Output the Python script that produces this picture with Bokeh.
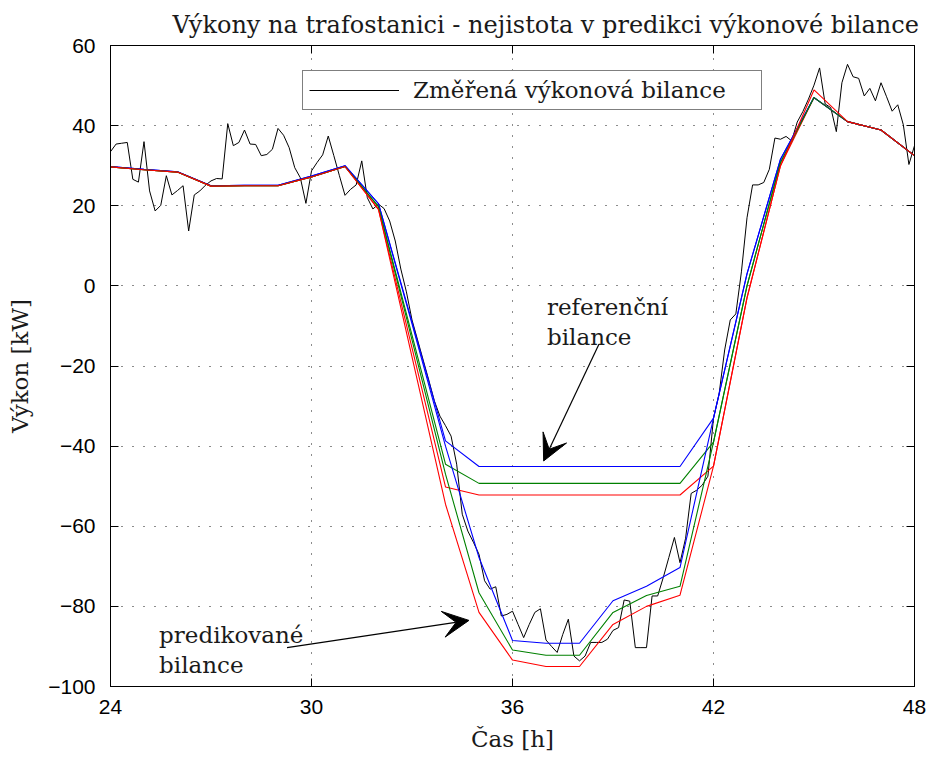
from bokeh.plotting import figure
from bokeh.models import (Range1d, FixedTicker, LinearAxis, Legend, LegendItem,
                          Arrow, VeeHead, Label)
from bokeh.embed import file_html
from bokeh.resources import INLINE

# ---------------- data ----------------
hours = [24, 25, 26, 27, 28, 29, 30, 31, 32, 33, 34, 35, 36,
         37, 38, 39, 40, 41, 42, 43, 44, 45, 46, 47, 48]

ref_blue = [29.8, 29.1, 28.5, 25.0, 25.1, 25.1, 27.4, 30.0, 20.5, -9.0, -38.7, -45.1, -45.1,
            -45.1, -45.1, -45.1, -45.1, -45.1, -33.0, 3.0, 31.6, 47.0, 41.0, 38.9, 32.5]
ref_green = [29.7, 29.0, 28.4, 24.9, 25.0, 25.0, 27.2, 29.8, 19.8, -12.3, -44.5, -49.3, -49.3,
             -49.3, -49.3, -49.3, -49.3, -49.3, -39.0, 0.0, 30.8, 47.0, 41.0, 38.9, 32.5]
ref_red = [29.7, 29.0, 28.4, 24.9, 25.0, 25.0, 27.2, 29.8, 19.1, -15.5, -50.2, -52.2, -52.2,
           -52.2, -52.2, -52.2, -52.2, -52.2, -45.0, -3.0, 30.0, 47.0, 41.0, 38.9, 32.5]

pred_blue = [29.8, 29.1, 28.5, 25.0, 25.1, 25.1, 27.4, 30.0, 20.5, -9.5, -40.0, -67.8, -88.5,
             -89.2, -89.2, -78.6, -75.0, -70.3, -33.0, 3.0, 31.6, 47.0, 41.0, 38.9, 32.5]
pred_green = [29.7, 29.0, 28.4, 24.9, 25.0, 25.0, 27.2, 29.8, 19.8, -13.5, -47.0, -76.6, -90.9,
              -92.2, -92.2, -81.5, -77.3, -75.0, -39.0, 0.0, 30.8, 47.0, 41.0, 38.9, 32.5]
pred_red = [29.7, 29.0, 28.4, 24.9, 25.0, 25.0, 27.2, 29.8, 19.1, -17.7, -54.5, -81.5, -93.4,
            -95.0, -95.0, -84.5, -80.0, -77.2, -45.0, -3.0, 30.0, 48.9, 41.0, 38.9, 32.5]

# measured balance, 10-minute samples from 24:00 to 48:00
meas_t = [24 + i / 6 for i in range(145)]
meas_kw = [
    33.5, 35.4, 35.6, 35.8, 26.6, 25.9,
    36.0, 23.7, 18.7, 20.1, 27.5, 22.7,
    23.8, 25.0, 13.7, 22.7, 23.7, 25.1,
    26.2, 26.8, 26.7, 40.5, 35.0, 35.8,
    38.9, 35.4, 35.3, 32.5, 32.8, 34.1,
    39.3, 37.6, 34.5, 29.5, 27.0, 20.6,
    28.7, 30.8, 32.7, 37.4, 32.5, 27.5,
    22.6, 24.1, 25.2, 31.2, 22.0, 19.2,
    20.4, 19.3, 16.2, 11.2, 4.2, -1.5,
    -8.5, -13.5, -18.5, -23.5, -28.7, -32.5,
    -34.9, -37.5, -44.5, -57.0, -61.2, -64.0,
    -67.0, -73.6, -75.7, -75.1, -82.4, -82.0,
    -81.2, -84.5, -87.8, -84.5, -81.5, -80.6,
    -88.4, -90.0, -91.5, -87.0, -83.2, -92.4,
    -93.6, -92.4, -89.0, -89.0, -89.0, -88.2,
    -86.0, -85.3, -78.4, -78.7, -90.3, -90.3,
    -90.3, -77.4, -77.4, -72.8, -67.8, -62.8,
    -69.1, -63.0, -51.8, -51.0, -49.7, -47.5,
    -33.0, -27.0, -16.0, -8.5, -7.0, 3.5,
    17.0, 25.2, 25.2, 25.8, 29.1, 36.9,
    36.6, 37.3, 36.2, 40.9, 43.5, 46.6,
    50.1, 54.4, 45.4, 44.5, 38.5, 50.7,
    55.3, 52.2, 51.8, 47.4, 49.3, 46.2,
    50.7, 47.2, 43.6, 45.2, 40.2, 30.3,
    35.0,
]

x_ticks = [24, 30, 36, 42, 48]
x_tick_labels = ["24", "30", "36", "42", "48"]
y_ticks = [-100, -80, -60, -40, -20, 0, 20, 40, 60]
y_tick_labels = ["\u2212100", "\u221280", "\u221260", "\u221240", "\u221220", "0", "20", "40", "60"]

title_text = "Výkony na trafostanici - nejistota v predikci výkonové bilance"
legend_text = "Změřená výkonová bilance"

SERIF = "DejaVu Serif"
SANS = "Liberation Sans"
TXT = "#1a1a1a"
FS = "23px"

# ---------------- figure ----------------
p = figure(frame_width=804, frame_height=641,
           x_range=Range1d(24, 48), y_range=Range1d(-100, 60),
           output_backend="svg", toolbar_location=None,
           min_border_left=110, min_border_right=24,
           min_border_top=45, min_border_bottom=70,
           background_fill_color="white", border_fill_color="white")

p.title.text = title_text
p.title.text_font = SERIF
p.title.text_font_size = "24px"
p.title.text_font_style = "normal"
p.title.text_color = TXT
p.title.align = "left"
p.title.offset = 62
p.title.standoff = 14

p.outline_line_color = "black"
p.outline_line_width = 1

def style_axis(ax, ticks, labels, show_labels):
    ax.ticker = FixedTicker(ticks=ticks)
    ax.major_tick_in = 8
    ax.major_tick_out = 0
    ax.minor_tick_line_color = None
    ax.axis_line_color = "black"
    ax.axis_line_width = 1
    ax.major_tick_line_color = "black"
    if show_labels:
        ax.major_label_overrides = {t: l for t, l in zip(ticks, labels)}
        ax.major_label_text_font = SANS
        ax.major_label_text_color = "black"
        ax.major_label_text_font_size = "21px"
    else:
        ax.major_label_text_color = None
        ax.major_label_text_font_size = "1px"
        ax.major_label_standoff = 0

style_axis(p.xaxis[0], x_ticks, x_tick_labels, True)
style_axis(p.yaxis[0], y_ticks, y_tick_labels, True)
p.xaxis[0].major_label_standoff = 13
p.yaxis[0].major_label_standoff = 15

p.xaxis[0].axis_label = "Čas [h]"
p.yaxis[0].axis_label = "Výkon [kW]"
for ax in (p.xaxis[0], p.yaxis[0]):
    ax.axis_label_text_font = SERIF
    ax.axis_label_text_font_size = FS
    ax.axis_label_text_font_style = "normal"
    ax.axis_label_text_color = TXT
p.xaxis[0].axis_label_standoff = 9
p.yaxis[0].axis_label_standoff = 12

top_ax = LinearAxis()
right_ax = LinearAxis()
style_axis(top_ax, x_ticks, x_tick_labels, False)
style_axis(right_ax, y_ticks, y_tick_labels, False)
p.add_layout(top_ax, "above")
p.add_layout(right_ax, "right")

p.xgrid.ticker = FixedTicker(ticks=x_ticks)
p.ygrid.ticker = FixedTicker(ticks=y_ticks)
p.grid.grid_line_color = "black"
p.grid.grid_line_width = 1
p.grid.grid_line_dash = "1 10"
p.grid.grid_line_alpha = 0.9

# ---------------- lines ----------------
r_meas = p.line(meas_t, meas_kw, line_color="black", line_width=1)

for ys, col in ((ref_blue, "#0000ff"), (ref_green, "#008000"), (ref_red, "#ff0000"),
                (pred_blue, "#0000ff"), (pred_green, "#008000"), (pred_red, "#ff0000")):
    p.line(hours, ys, line_color=col, line_width=1.1)

# ---------------- legend ----------------
legend = Legend(items=[LegendItem(label=legend_text, renderers=[r_meas])],
                location=(192, 576), orientation="vertical",
                border_line_color="black", border_line_width=1.5,
                background_fill_color="white", background_fill_alpha=1,
                label_text_font=SERIF, label_text_font_size=FS,
                label_text_color=TXT, glyph_width=90, glyph_height=20,
                label_standoff=14, label_width=342, padding=6, margin=0, spacing=0)
p.add_layout(legend)

# ---------------- annotations ----------------
for txt, yy in (("referenční", -5.3), ("bilance", -12.8)):
    p.add_layout(Label(x=37.03, y=yy, text=txt, text_font=SERIF,
                       text_font_size=FS, text_color=TXT,
                       text_baseline="alphabetic", text_align="left"))
for txt, yy in (("predikované", -87.2), ("bilance", -94.7)):
    p.add_layout(Label(x=25.45, y=yy, text=txt, text_font=SERIF,
                       text_font_size=FS, text_color=TXT,
                       text_baseline="alphabetic", text_align="left"))

p.add_layout(Arrow(end=VeeHead(size=26, fill_color="black", line_color="black"),
                   x_start=38.58, y_start=-14.6, x_end=36.93, y_end=-43.7,
                   line_color="black", line_width=1.2))
p.add_layout(Arrow(end=VeeHead(size=26, fill_color="black", line_color="black"),
                   x_start=29.27, y_start=-90.3, x_end=34.70, y_end=-83.5,
                   line_color="black", line_width=1.2))

open("out.html", "w").write(file_html(p, INLINE))
